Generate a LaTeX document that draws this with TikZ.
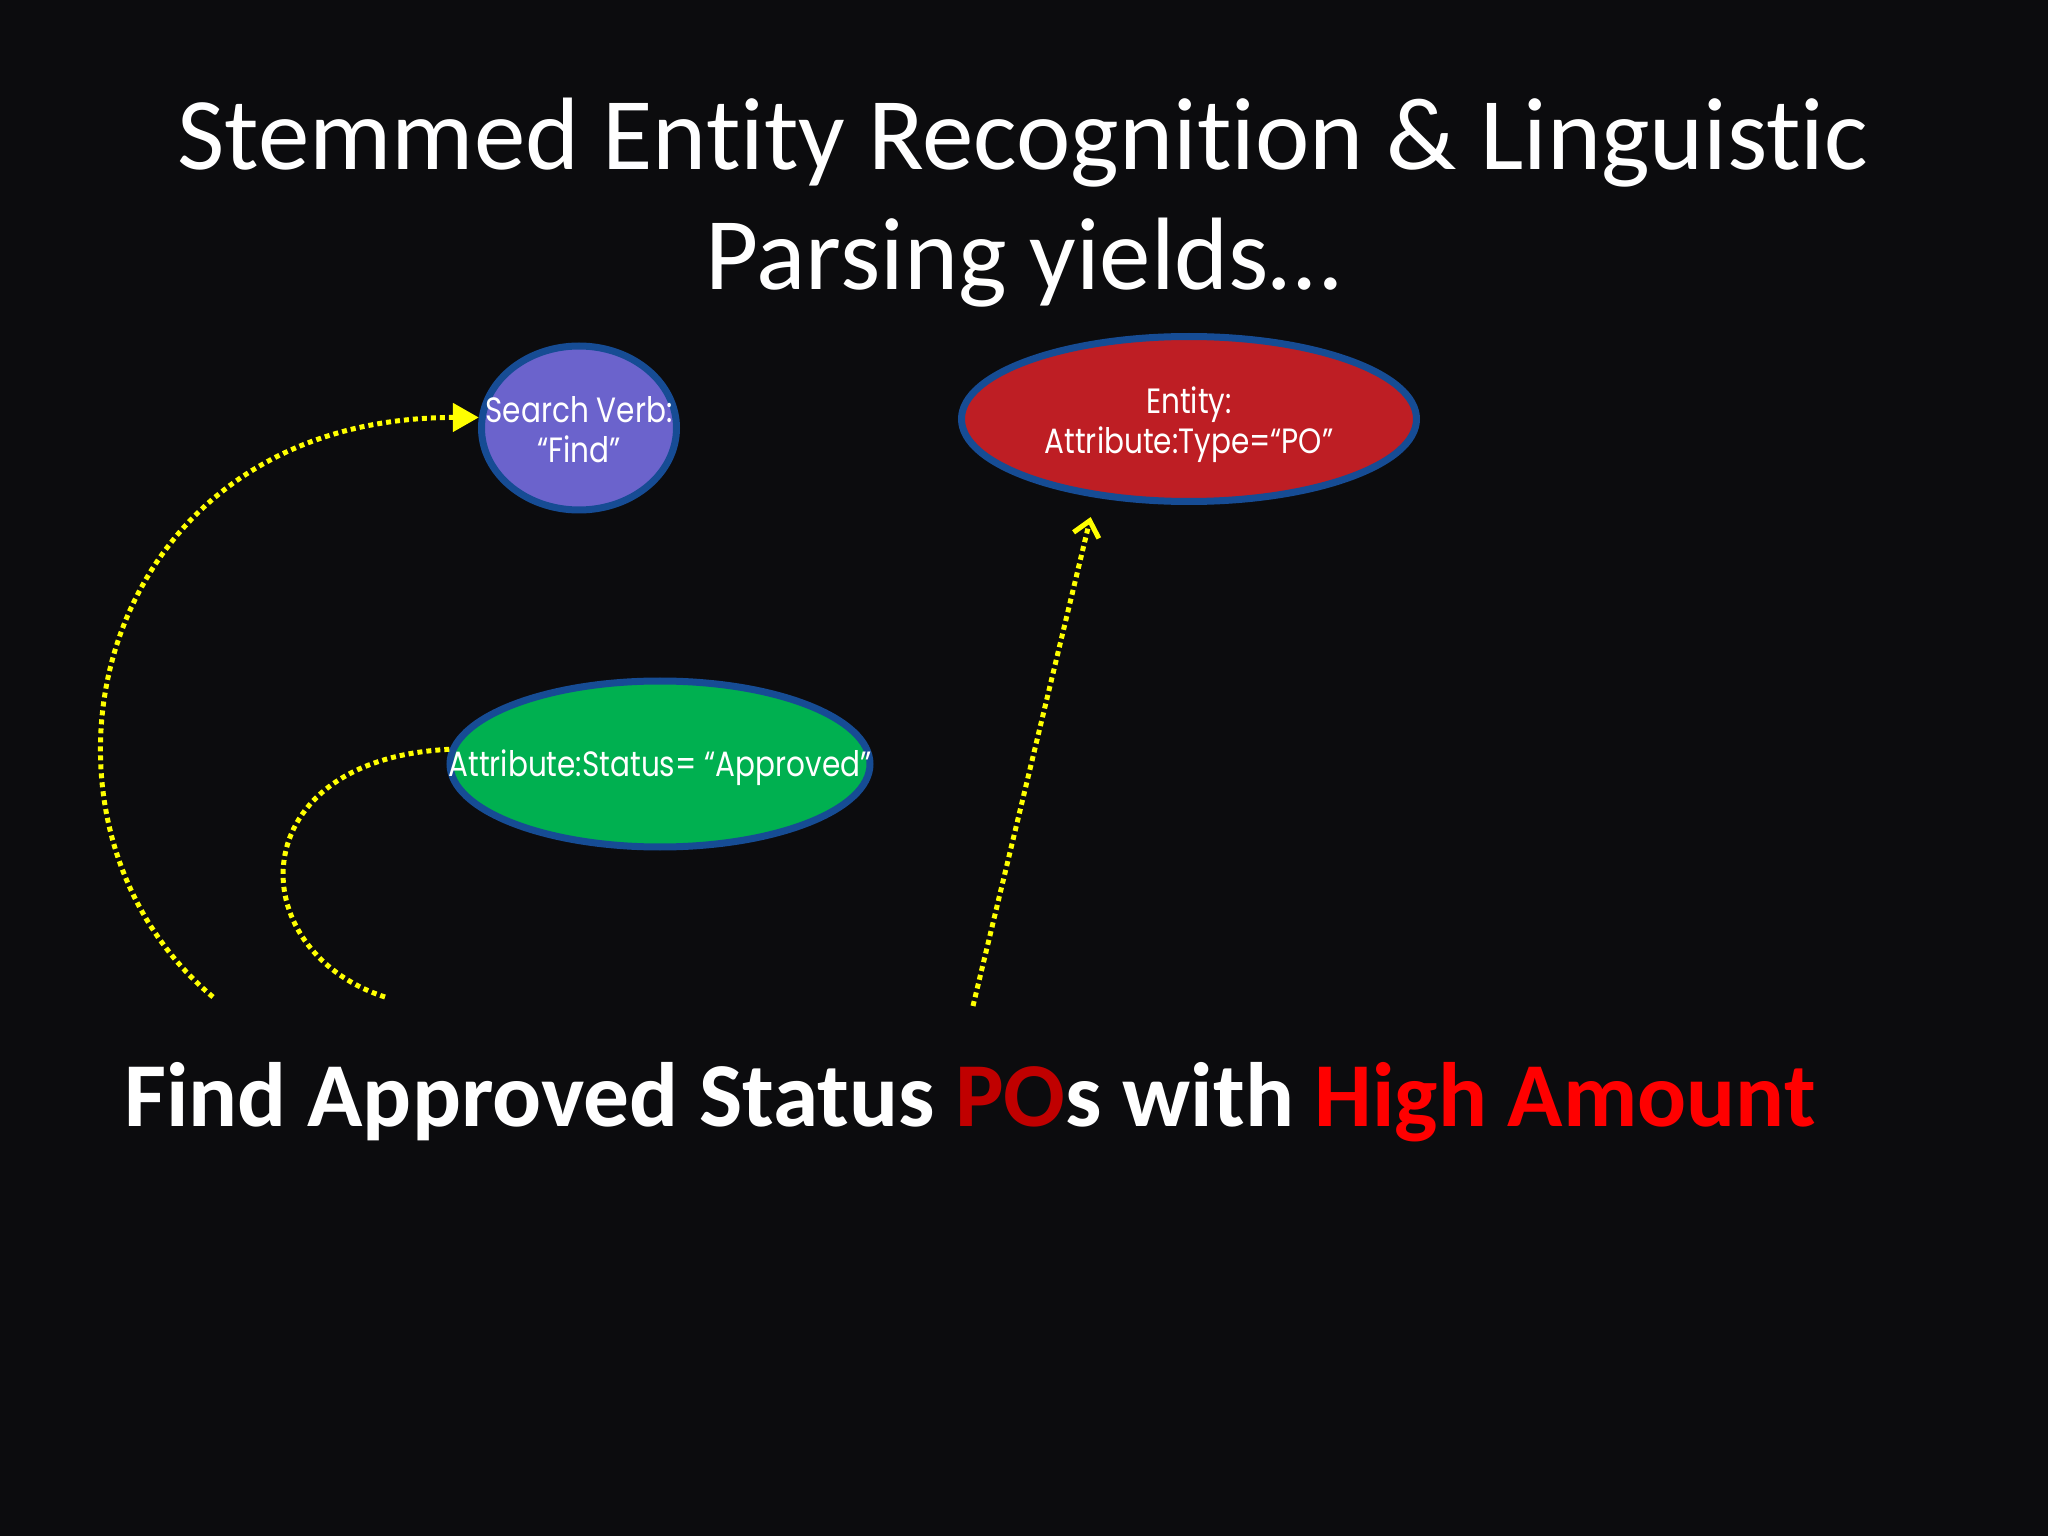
\documentclass[tikz,border=0pt]{standalone}
\usepackage{fontspec}
\setmainfont{Carlito}[Ligatures=NoCommon]
\newfontfamily\ovalfont[FakeStretch=0.84]{Poppins}
\usetikzlibrary{arrows.meta,shapes.geometric}

\definecolor{slidebg}{RGB}{12,12,14}
\definecolor{ovalrim}{RGB}{22,76,148}
\definecolor{verbfill}{RGB}{107,99,204}
\definecolor{entityfill}{RGB}{190,30,36}
\definecolor{statusfill}{RGB}{0,176,80}
\definecolor{pored}{RGB}{192,0,0}
\definecolor{hired}{RGB}{255,0,0}
\definecolor{linkyellow}{RGB}{255,255,0}

\begin{document}
\begin{tikzpicture}[>={Triangle[length=0.26cm,width=0.28cm]}]
		\tikzstyle{oval}=[ellipse, draw=ovalrim, line width=0.07cm, inner sep=0pt]
		\tikzstyle{oval text}=[text=white, font=\ovalfont\fontsize{10}{11.4}\selectfont, align=center]
		\tikzstyle{title}=[text=white, font=\fontsize{29.3}{34}\selectfont, anchor=base]
		\tikzstyle{query}=[text=white, font=\bfseries\fontsize{26}{30}\selectfont, anchor=base]
		\tikzstyle{link}=[draw=linkyellow, line width=0.05cm, dash pattern=on 0.05cm off 0.04cm]

		% slide
		\fill[slidebg] (0,0) rectangle (20.48,-15.36);
		\useasboundingbox (0,0) rectangle (20.48,-15.36);

		\node [title] (title1) at (10.23,-1.70) {Stemmed Entity Recognition \& Linguistic};

		\node [title] (title2) at (10.23,-2.90) {Parsing yields…};

		% parsed pieces
		\node [oval, fill=verbfill, minimum width=1.95cm, minimum height=1.64cm] (verb) at (5.79,-4.28) {};

		\node [oval, fill=entityfill, minimum width=4.55cm, minimum height=1.65cm] (entity) at (11.89,-4.19) {};

		\node [oval, fill=statusfill, minimum width=4.20cm, minimum height=1.66cm] (status) at (6.60,-7.64) {};

		% the query
		\node [query] (sentence) at (9.70,-11.26) {Find Approved Status \textcolor{pored}{PO}s with \textcolor{hired}{High Amount}};

		\coordinate (findfoot) at (2.13,-9.97);
		\coordinate (approvedfoot) at (3.85,-9.97);
		\coordinate (pofoot) at (9.73,-10.06);

		\draw [link,->] (findfoot) .. controls +(-2.1,1.75) and +(-3.9,0) .. (verb.174);
		\draw [link] (approvedfoot) .. controls +(-1.45,0.47) and +(-2.1,-0.10) .. (status.176);
		\draw [link,-{Straight Barb[length=0.15cm,width=0.26cm]},shorten >=0.2cm] (pofoot) -- (entity.220);

		\node [oval text] (verbtext) at ([yshift=-0.02cm]verb.center) {Search Verb:\\“Find”};
		\node [oval text] (entitytext) at ([yshift=-0.06cm]entity.center) {Entity:\\Attribute:Type=“PO”};
		\node [oval text] (statustext) at ([yshift=-0.04cm]status.center) {Attribute:Status= “Approved”};
\end{tikzpicture}
\end{document}
